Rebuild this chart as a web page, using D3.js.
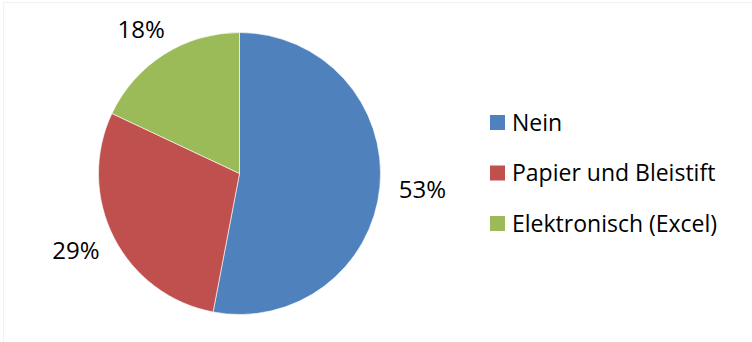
<!DOCTYPE html>
<html>
<head>
<meta charset="utf-8">
<script src="https://cdn.jsdelivr.net/npm/d3@7"></script>
<style>
  html, body { margin: 0; padding: 0; background: #fff; }
  svg text { font-family: "Open Sans", sans-serif; fill: #000; }
</style>
</head>
<body>
<svg id="chart" width="752" height="342"></svg>
<script>
// Survey answers and their shares (percent)
const categories = ["Nein", "Papier und Bleistift", "Elektronisch (Excel)"];
const values = [53, 29, 18];
const colors = ["#4F81BD", "#C0504D", "#9BBB59"];

const svg = d3.select("#chart");

// faint chart-area frame
svg.append("rect")
  .attr("x", 3.5).attr("y", 2.5)
  .attr("width", 752).attr("height", 342)
  .attr("fill", "none")
  .attr("stroke", "#f2f2f2");

const cx = 239.5, cy = 173.5, r = 141;
const g = svg.append("g").attr("transform", `translate(${cx},${cy})`);

const pie = d3.pie().sort(null).value(d => d.value);
const data = pie(categories.map((c, i) => ({ name: c, value: values[i], color: colors[i] })));

const arc = d3.arc().innerRadius(0).outerRadius(r);

g.selectAll("path.slice")
  .data(data)
  .join("path")
  .attr("class", "slice")
  .attr("d", arc)
  .attr("fill", d => d.data.color)
  .attr("stroke", "#fff")
  .attr("stroke-width", 0.6);

// outside-end percentage labels: anchor on a ring just outside the pie,
// then push the label box outward along each axis by its half size
const anchorR = 160, halfH = 10;
g.selectAll("text.pct")
  .data(data)
  .join("text")
  .attr("class", "pct")
  .attr("text-anchor", "middle")
  .attr("dy", "0.35em")
  .attr("font-size", 24)
  .text(d => d.data.value + "%")
  .attr("transform", function (d) {
    const a = (d.startAngle + d.endAngle) / 2;
    const s = Math.sin(a), c = -Math.cos(a);
    const halfW = this.getComputedTextLength() / 2;
    return `translate(${anchorR * s + halfW * s},${anchorR * c + halfH * c})`;
  });

// legend
const legend = svg.append("g").attr("transform", "translate(490,122.5)");
const item = legend.selectAll("g.item")
  .data(data)
  .join("g")
  .attr("class", "item")
  .attr("transform", (d, i) => `translate(0,${i * 50.5})`);

item.append("rect")
  .attr("x", 0).attr("y", -7.5)
  .attr("width", 15).attr("height", 15)
  .attr("fill", d => d.data.color);

item.append("text")
  .attr("x", 22)
  .attr("y", 0)
  .attr("dy", "0.35em")
  .attr("font-size", 23)
  .text(d => d.data.name);
</script>
</body>
</html>
